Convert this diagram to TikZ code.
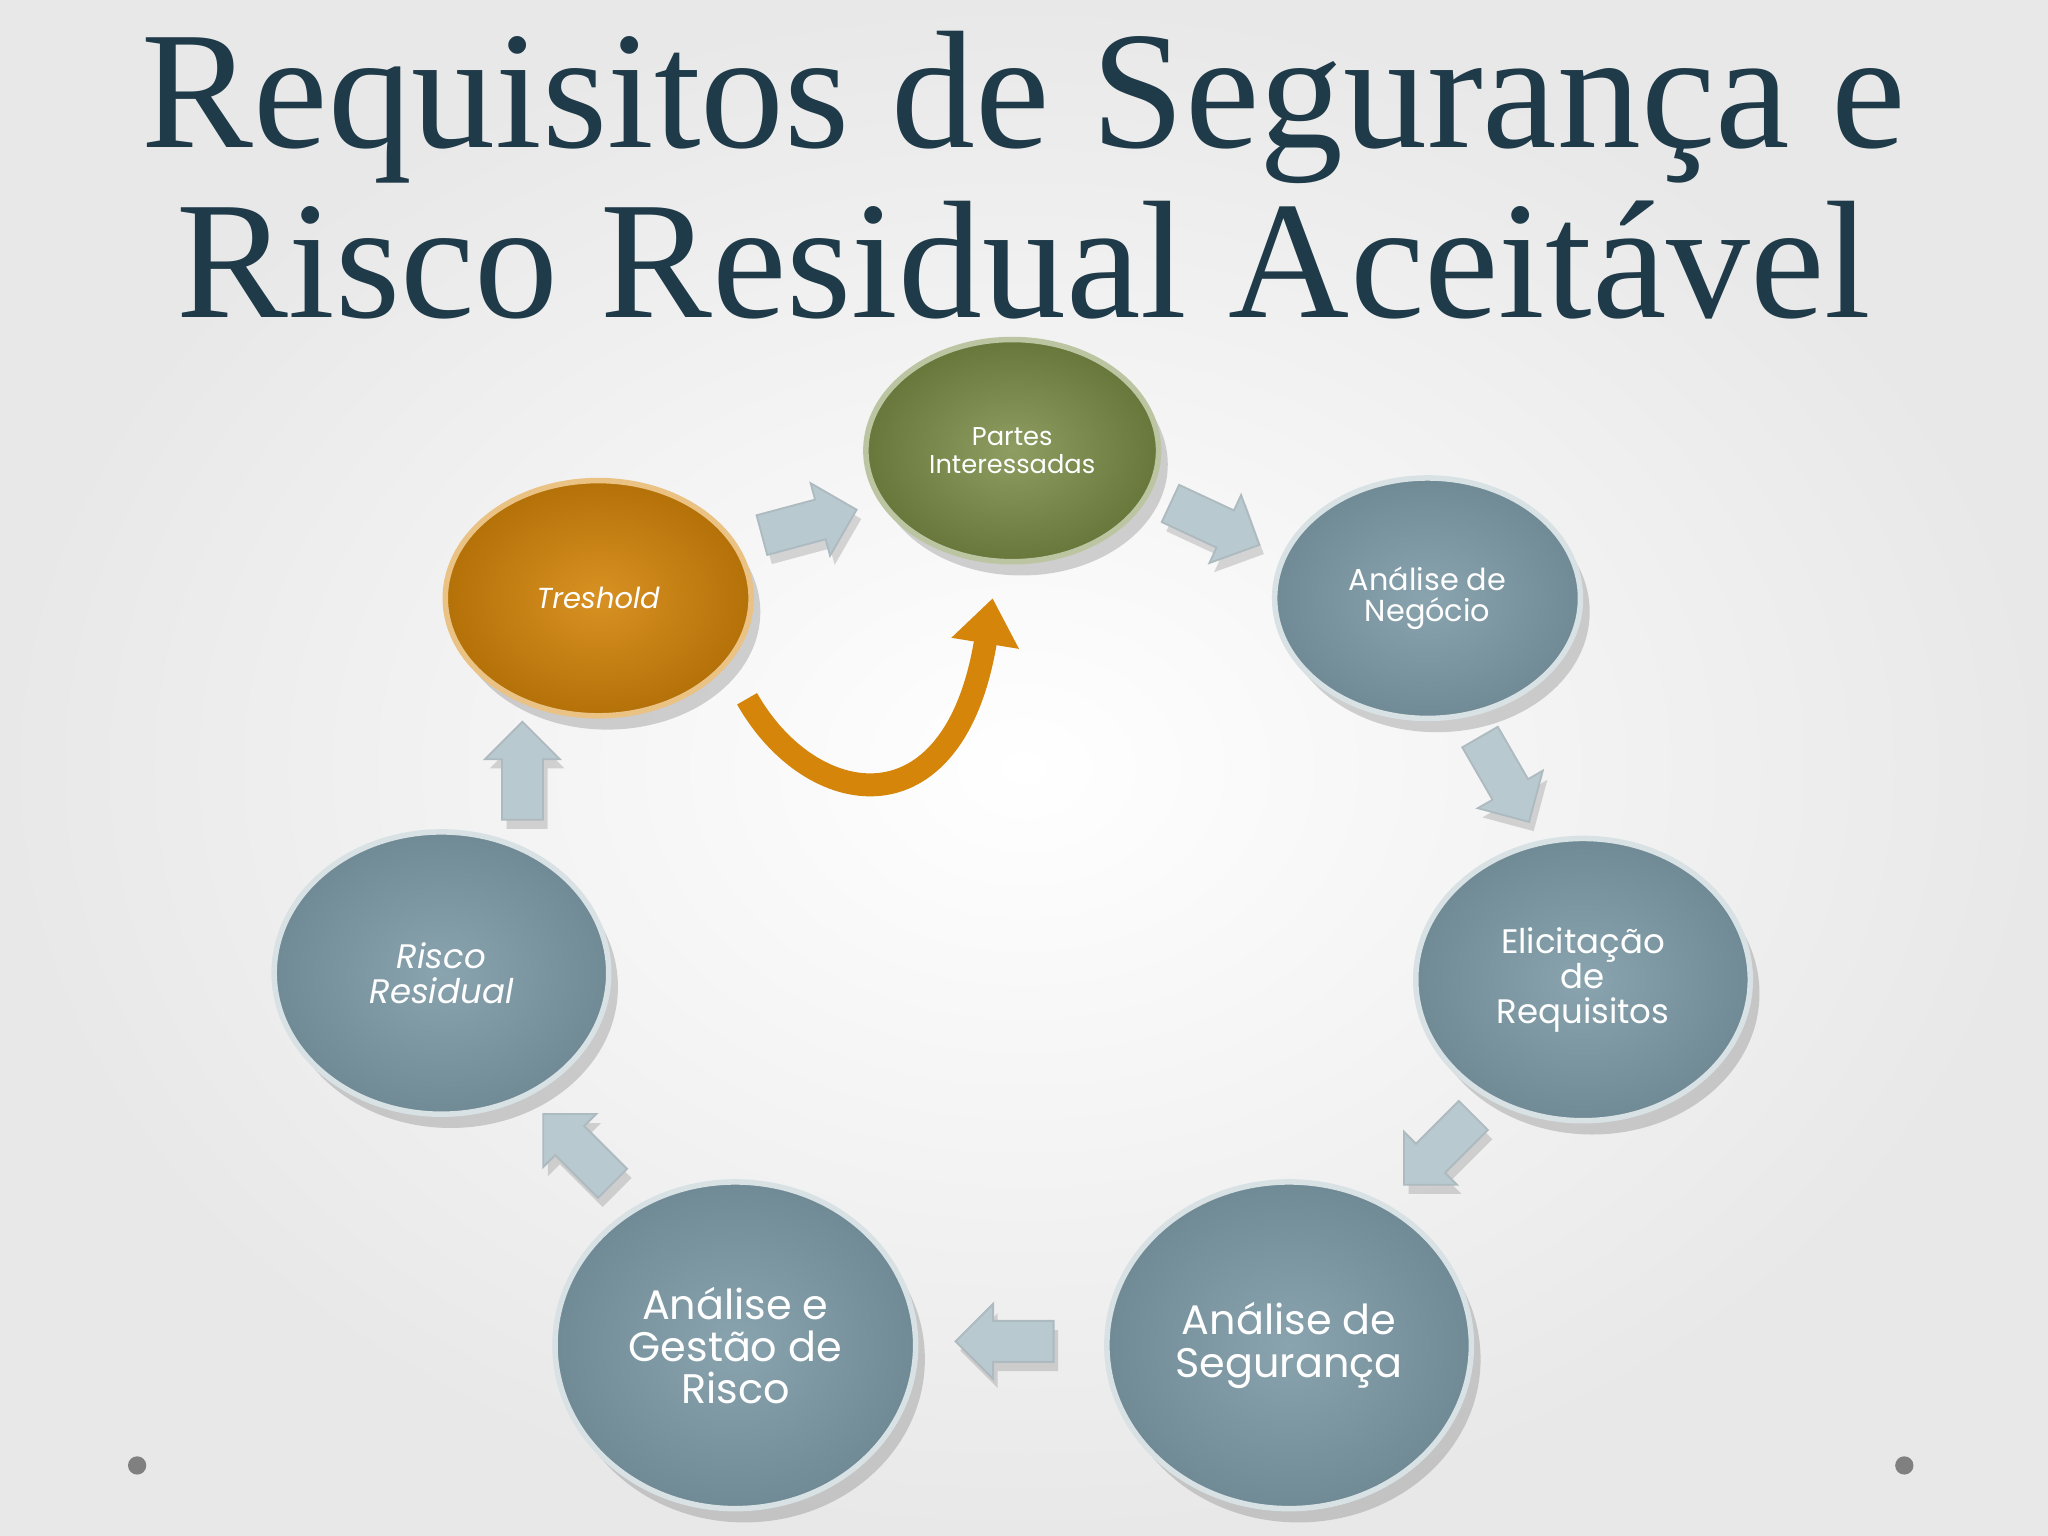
\documentclass[tikz,border=0pt]{standalone}
\usepackage{fontspec}
\setmainfont{Liberation Serif}
\newfontfamily\gothic{Poppins}
\usetikzlibrary{shapes.arrows,shapes.geometric,shadows,arrows.meta}
\definecolor{titlec}{HTML}{1F3A48}
\definecolor{bluec}{HTML}{7C9AA6}
\definecolor{greenc}{HTML}{7A8C45}
\definecolor{orangec}{HTML}{D4850A}
\definecolor{arrc}{HTML}{B9C9D0}
\tikzset{
 disc/.style={ellipse, draw=white!70!bluec, line width=1.2pt, text=white, align=center,
   drop shadow={shadow xshift=2pt,shadow yshift=-3pt,opacity=.35}},
 bdisc/.style={disc, inner color=bluec!90!white, outer color=bluec!90!black},
 barrow/.style={single arrow, fill=arrc, draw=arrc!80!gray, inner sep=0.15cm, single arrow head extend=0.13cm, minimum height=0.75cm,
   drop shadow={shadow xshift=1pt,shadow yshift=-2pt,opacity=.3}},
}
\begin{document}
\begin{tikzpicture}[x=0.01cm,y=-0.01cm]
\shade[inner color=white, outer color=gray!18] (0,0) rectangle (1568,1176);
\useasboundingbox (0,0) rectangle (1568,1176);
\node[text=titlec, font=\fontsize{36.5}{37}\selectfont, align=center] (title) at (784,134) {Requisitos de Segurança e\\Risco Residual Aceitável};
\node[disc, minimum width=2.24cm, minimum height=1.7cm, inner color=greenc!85!white, outer color=greenc!85!black, draw=greenc!50!white, font=\gothic\fontsize{5.6}{6.2}\selectfont] (p) at (775,345) {Partes\\Interessadas};
\node[bdisc, minimum width=2.34cm, minimum height=1.84cm, font=\gothic\fontsize{6.6}{6.6}\selectfont] (n) at (1093,458) {Análise de\\Negócio};
\node[bdisc, minimum width=2.56cm, minimum height=2.16cm, font=\gothic\fontsize{7.4}{7.6}\selectfont] (e) at (1212,750) {Elicitação\\de\\Requisitos};
\node[bdisc, minimum width=2.76cm, minimum height=2.5cm, font=\gothic\fontsize{9}{9.2}\selectfont] (s) at (987,1030) {Análise de\\Segurança};
\node[bdisc, minimum width=2.76cm, minimum height=2.5cm, font=\gothic\fontsize{9}{9.2}\selectfont] (g) at (563,1030) {Análise e\\Gestão de\\Risco};
\node[bdisc, minimum width=2.56cm, minimum height=2.16cm, font=\gothic\itshape\fontsize{7.4}{7.6}\selectfont] (r) at (338,745) {Risco\\Residual};
\node[disc, minimum width=2.34cm, minimum height=1.8cm, inner color=orangec!90!white, outer color=orangec!85!black, draw=orangec!50!white, font=\gothic\itshape\fontsize{6.3}{7}\selectfont] (t) at (458,458) {Treshold};
\node[barrow, rotate=15] (a1) at (612,402) {};
\node[barrow, rotate=-25] (a2) at (923,398) {};
\node[barrow, rotate=-60] (a3) at (1148,590) {};
\node[barrow, rotate=-135] (a4) at (1107,875) {};
\node[barrow, rotate=180] (a5) at (777,1027) {};
\node[barrow, rotate=135] (a6) at (448,885) {};
\node[barrow, rotate=90] (a7) at (400,598) {};
\coordinate (c0) at (572,535);
\coordinate (c1) at (760,458);
\draw[orangec, line width=5pt, -{Triangle[length=0.35cm,width=0.5cm]}] (c0) .. controls (620,620) and (730,640) .. (c1);
\fill[gray] (105,1122) circle (7);
\fill[gray] (1458,1122) circle (7);
\end{tikzpicture}
\end{document}
